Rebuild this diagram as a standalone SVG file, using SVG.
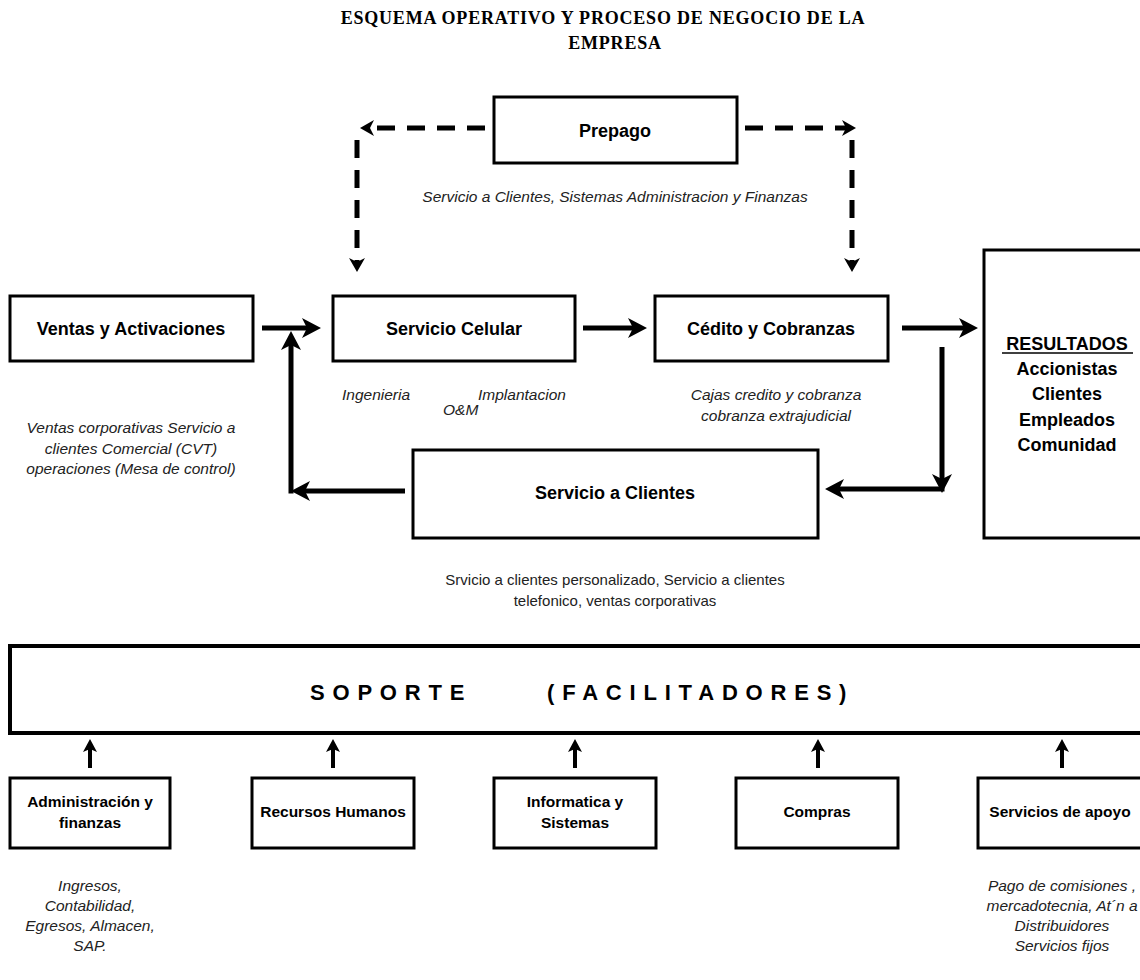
<svg xmlns="http://www.w3.org/2000/svg" width="1140" height="980" viewBox="0 0 1140 980">
<style>
.box{fill:#fff;stroke:#000;stroke-width:3}
.lbl{font-family:"Liberation Sans",Arial,sans-serif;font-weight:bold;font-size:18px;fill:#000;text-anchor:middle}
.slbl{font-family:"Liberation Sans",Arial,sans-serif;font-weight:bold;font-size:15.5px;fill:#000;text-anchor:middle}
.it{font-family:"Liberation Sans",Arial,sans-serif;font-style:italic;font-size:15.5px;fill:#222;text-anchor:middle}
.its{font-family:"Liberation Sans",Arial,sans-serif;font-style:italic;font-size:15.5px;fill:#222;text-anchor:start}
.nt{font-family:"Liberation Sans",Arial,sans-serif;font-size:15px;fill:#222;text-anchor:middle}
.title{font-family:"Liberation Serif","Times New Roman",serif;font-weight:bold;font-size:18px;letter-spacing:0.8px;fill:#000;text-anchor:middle}
.sop{font-family:"Liberation Sans",Arial,sans-serif;font-weight:bold;font-size:22px;letter-spacing:7.8px;fill:#000}
.sol{fill:none;stroke:#000;stroke-width:5}
.dash{fill:none;stroke:#000;stroke-width:5;stroke-dasharray:18 12}
.up{fill:none;stroke:#000;stroke-width:4}
</style>
<defs>
<marker id="ah" markerUnits="userSpaceOnUse" markerWidth="22" markerHeight="22" refX="8" refY="11" orient="auto"><path d="M0,1 L19,11 L0,21 L5,11 z" fill="#000"/></marker>
<marker id="ahd" markerUnits="userSpaceOnUse" markerWidth="16" markerHeight="18" refX="4" refY="9" orient="auto"><path d="M0,1 L14,9 L0,17 L4,9 z" fill="#000"/></marker>
<marker id="ahu" markerUnits="userSpaceOnUse" markerWidth="14" markerHeight="16" refX="3" refY="7" orient="auto"><path d="M0,0 L13,7 L0,14 L3,7 z" fill="#000"/></marker>
</defs>

<g id="title">
<text class="title" x="603" y="24">ESQUEMA OPERATIVO Y PROCESO DE NEGOCIO DE LA</text>
<text class="title" x="615" y="49">EMPRESA</text>
</g>

<g id="connectors">
<path class="dash" d="M485,128 H370" marker-end="url(#ahd)"/>
<path class="dash" d="M357,140 V262" marker-end="url(#ahd)"/>
<path class="dash" d="M745,128 H846" marker-end="url(#ahd)"/>
<path class="dash" d="M852,140 V262" marker-end="url(#ahd)"/>
<path class="sol" d="M262,328 H310" marker-end="url(#ah)"/>
<path class="sol" d="M583,328 H636" marker-end="url(#ah)"/>
<path class="sol" d="M902,328 H967" marker-end="url(#ah)"/>
<path class="sol" d="M942,347 V482" marker-end="url(#ah)"/>
<path class="sol" d="M944.5,489 H836" marker-end="url(#ah)"/>
<path class="sol" d="M405,491 H302" marker-end="url(#ah)"/>
<path class="sol" d="M291,493.5 V342" marker-end="url(#ah)"/>
<path class="up" d="M90,768 V749" marker-end="url(#ahu)"/>
<path class="up" d="M333,768 V749" marker-end="url(#ahu)"/>
<path class="up" d="M575,768 V749" marker-end="url(#ahu)"/>
<path class="up" d="M818,768 V749" marker-end="url(#ahu)"/>
<path class="up" d="M1062,768 V749" marker-end="url(#ahu)"/>
</g>

<g id="prepago">
<rect class="box" x="494" y="97" width="243" height="66"/>
<text class="lbl" x="615" y="137">Prepago</text>
<text class="it" x="615" y="202">Servicio a Clientes, Sistemas Administracion y Finanzas</text>
</g>

<g id="ventas">
<rect class="box" x="10" y="296" width="243" height="65"/>
<text class="lbl" x="131" y="335">Ventas y Activaciones</text>
<text class="it" x="131" y="433">Ventas corporativas Servicio a</text>
<text class="it" x="131" y="454">clientes Comercial (CVT)</text>
<text class="it" x="131" y="474">operaciones (Mesa de control)</text>
</g>

<g id="celular">
<rect class="box" x="333" y="296" width="242" height="65"/>
<text class="lbl" x="454" y="335">Servicio Celular</text>
<text class="its" x="342" y="400">Ingenieria</text>
<text class="its" x="478" y="400">Implantacion</text>
<text class="its" x="443" y="415">O&amp;M</text>
</g>

<g id="credito">
<rect class="box" x="655" y="296" width="233" height="65"/>
<text class="lbl" x="771" y="335">Cédito y Cobranzas</text>
<text class="it" x="776" y="400">Cajas credito y cobranza</text>
<text class="it" x="776" y="421">cobranza extrajudicial</text>
</g>

<g id="resultados">
<rect class="box" x="984" y="250" width="170" height="288"/>
<text class="lbl" x="1067" y="350">RESULTADOS</text>
<line x1="1002" y1="353" x2="1133" y2="353" stroke="#000" stroke-width="1.5"/>
<text class="lbl" x="1067" y="375">Accionistas</text>
<text class="lbl" x="1067" y="400">Clientes</text>
<text class="lbl" x="1067" y="426">Empleados</text>
<text class="lbl" x="1067" y="451">Comunidad</text>
</g>

<g id="servicio-clientes">
<rect class="box" x="413" y="450" width="405" height="88"/>
<text class="lbl" x="615" y="499">Servicio a Clientes</text>
<text class="nt" x="615" y="585">Srvicio a clientes personalizado, Servicio a clientes</text>
<text class="nt" x="615" y="606">telefonico, ventas corporativas</text>
</g>

<g id="soporte">
<rect x="10" y="646" width="1145" height="87" fill="#fff" stroke="#000" stroke-width="4"/>
<text class="sop" x="310" y="700">SOPORTE</text>
<text class="sop" x="547" y="700">(FACILITADORES)</text>
</g>

<g id="admin">
<rect class="box" x="10" y="778" width="160" height="70"/>
<text class="slbl" x="90" y="807">Administración y</text>
<text class="slbl" x="90" y="828">finanzas</text>
<text class="it" x="90" y="891">Ingresos,</text>
<text class="it" x="90" y="911">Contabilidad,</text>
<text class="it" x="90" y="931">Egresos, Almacen,</text>
<text class="it" x="90" y="951">SAP.</text>
</g>

<g id="rrhh">
<rect class="box" x="252" y="778" width="162" height="70"/>
<text class="slbl" x="333" y="817">Recursos Humanos</text>
</g>

<g id="informatica">
<rect class="box" x="494" y="778" width="162" height="70"/>
<text class="slbl" x="575" y="807">Informatica y</text>
<text class="slbl" x="575" y="828">Sistemas</text>
</g>

<g id="compras">
<rect class="box" x="736" y="778" width="162" height="70"/>
<text class="slbl" x="817" y="817">Compras</text>
</g>

<g id="apoyo">
<rect class="box" x="978" y="778" width="175" height="70"/>
<text class="slbl" x="1060" y="817">Servicios de apoyo</text>
<text class="it" x="1062" y="891">Pago de comisiones ,</text>
<text class="it" x="1062" y="911">mercadotecnia, At´n a</text>
<text class="it" x="1062" y="931">Distribuidores</text>
<text class="it" x="1062" y="951">Servicios fijos</text>
</g>
</svg>
